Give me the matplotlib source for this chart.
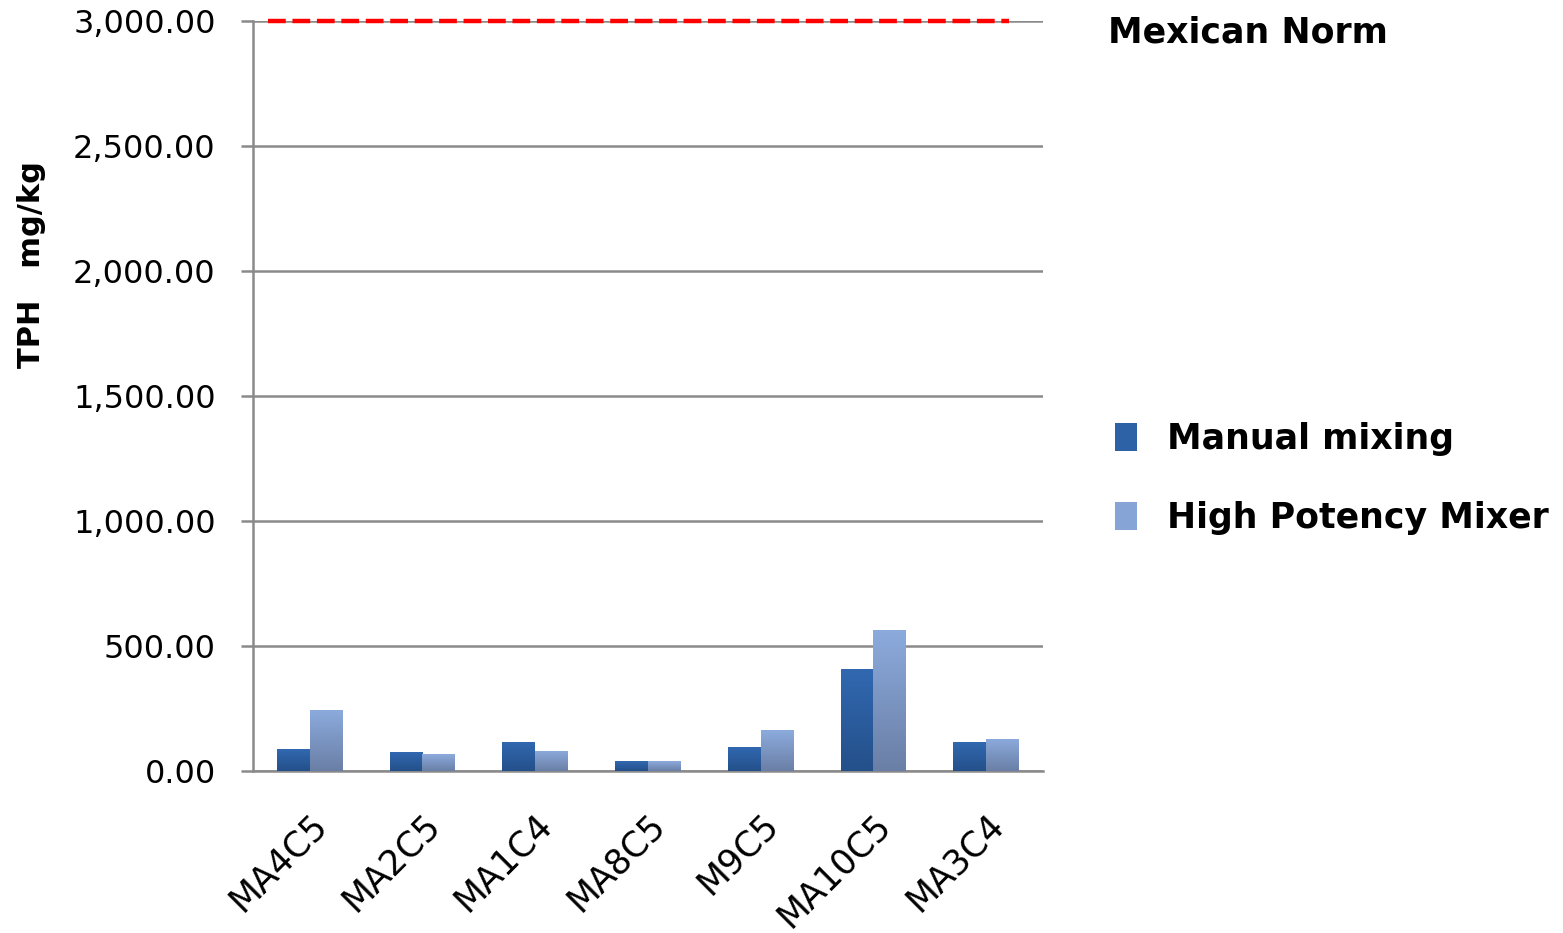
import numpy as np
import matplotlib
matplotlib.use("Agg")
import matplotlib.pyplot as plt
from matplotlib.colors import LinearSegmentedColormap
from matplotlib.ticker import FuncFormatter

samples = ["MA4C5", "MA2C5", "MA1C4", "MA8C5", "M9C5", "MA10C5", "MA3C4"]
manual = [87, 75, 115, 39, 95, 407, 115]
hpm = [244, 67, 80, 39, 163, 564, 128]
norm = 3000
yticks = [0, 500, 1000, 1500, 2000, 2500, 3000]

plt.rcParams['font.family'] = ['DejaVu Sans']

fig = plt.figure(figsize=(15.63, 9.33), dpi=100)
ax = fig.add_axes([0.162, 0.1736, 0.505, 0.804])

x = np.arange(len(samples))
w = 0.29
b1 = ax.bar(x - w / 2, manual, w, color="#2d62a6", zorder=3)
b2 = ax.bar(x + w / 2, hpm, w, color="#86a4d6", zorder=3)

# vertical gradient inside each bar, clipped to the bar shape
grad = np.linspace(0, 1, 100).reshape(-1, 1)
cm1 = LinearSegmentedColormap.from_list("m", ["#24508a", "#3168b0"])
cm2 = LinearSegmentedColormap.from_list("h", ["#6a7fa6", "#8cabdd"])
for bars, cm in ((b1, cm1), (b2, cm2)):
    for p in bars:
        x0, y0 = p.get_x(), p.get_y()
        im = ax.imshow(grad, cmap=cm, origin="lower", aspect="auto",
                       extent=[x0, x0 + p.get_width(), y0, y0 + p.get_height()],
                       zorder=3.5)
        im.set_clip_path(p)

ax.plot([-0.37, 6.2], [norm, norm], color="red", linestyle=(0, (4, 1.5)),
        linewidth=3.2, zorder=4, clip_on=False)

ax.set_xlim(-0.5, len(samples) - 0.5)
ax.set_ylim(0, 3000)
ax.set_yticks(yticks)
ax.yaxis.set_major_formatter(FuncFormatter(lambda v, p: f"{v:,.2f}"))
ax.grid(axis="y", color="#8a8a8a", linewidth=1.8, zorder=1)
for s in ["top", "right"]:
    ax.spines[s].set_visible(False)
ax.spines["left"].set_color("#8a8a8a")
ax.spines["left"].set_linewidth(1.8)
ax.spines["bottom"].set_color("#8a8a8a")
ax.spines["bottom"].set_linewidth(1.8)
ax.tick_params(axis="y", length=9, width=1.8, color="#8a8a8a", labelsize=23, pad=18)
ax.tick_params(axis="x", length=0, labelsize=25, pad=26)
ax.set_xticks(x)
ax.set_xticklabels(samples, rotation=45, ha="right", rotation_mode="anchor")

ax.set_ylabel("TPH   mg/kg", fontsize=22, fontweight="bold")
ax.yaxis.set_label_coords(-0.262, 0.675)

fig.text(0.709, 0.965, "Mexican Norm", fontsize=25, fontweight="bold", va="center")

ax.legend([b1, b2], ["Manual mixing", "High Potency Mixer"], loc="center left",
          bbox_to_anchor=(1.052, 0.39), frameon=False,
          prop={"weight": "bold", "size": 25}, handlelength=0.65, handleheight=0.85,
          handletextpad=0.85, labelspacing=1.3)

fig.savefig("out.png", dpi=100)
